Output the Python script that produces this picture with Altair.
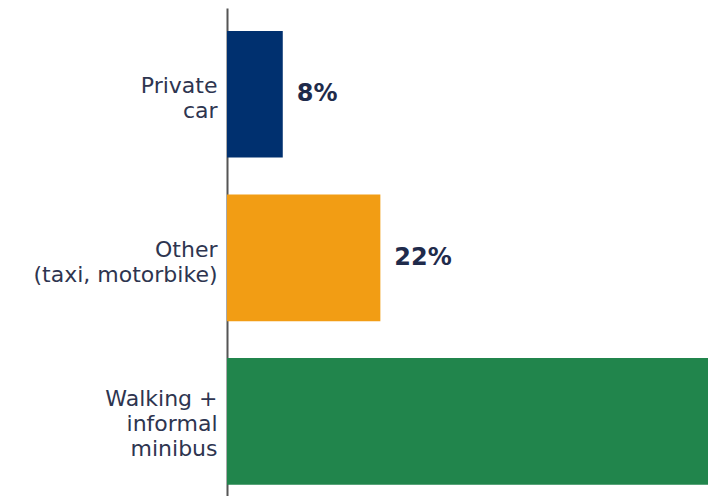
import altair as alt
import pandas as pd

categories = ["Private\ncar", "Other\n(taxi, motorbike)", "Walking +\ninformal\nminibus"]
values = [8, 22, 70]
colors = ["#00306F", "#F29D14", "#21854C"]

df = pd.DataFrame({"mode": categories, "value": values, "color": colors})

W = 481
H = 488
X_MAX = 69

y_enc = alt.Y(
    "mode:N",
    sort=categories,
    title=None,
    scale=alt.Scale(paddingInner=0.226, paddingOuter=0.105, align=0.67),
    axis=alt.Axis(
        domain=True,
        domainColor="#555555",
        domainWidth=2,
        ticks=False,
        grid=False,
        labelExpr="split(datum.label, '\\n')",
        labelFont="DejaVu Sans",
        labelFontSize=22,
        labelLineHeight=25,
        labelColor="#2E3550",
        labelPadding=10,
        labelAlign="right",
        labelBaseline="middle",
        labelLimit=300,
        labelOffset={
            "condition": {"test": "length(split(datum.value, '\\n')) > 2", "value": -22},
            "value": -8,
        },
    ),
)

x_enc = alt.X("value:Q", scale=alt.Scale(domain=[0, X_MAX], nice=False, zero=True), axis=None)

base = alt.Chart(df)

bars = base.mark_bar(clip=True).encode(
    x=x_enc,
    y=y_enc,
    color=alt.Color("color:N", scale=None),
)

text = (
    base.transform_filter(f"datum.value < {X_MAX}")
    .transform_calculate(lab="datum.value + '%'")
    .mark_text(
        align="left",
        baseline="middle",
        dx=14,
        dy=0,
        font="DejaVu Sans",
        fontSize=24,
        fontWeight="bold",
        color="#1F2B4B",
    )
    .encode(x=x_enc, y=alt.Y("mode:N", sort=categories), text="lab:N")
)

chart = (
    alt.layer(bars, text)
    .properties(
        width=W,
        height=H,
        autosize=alt.AutoSizeParams(type="none"),
        padding={"left": 219, "top": 0, "right": 0, "bottom": 0},
        background="white",
    )
    .configure_view(stroke=None)
)

chart.save("out.html", embed_options={"renderer": "svg", "actions": False})
